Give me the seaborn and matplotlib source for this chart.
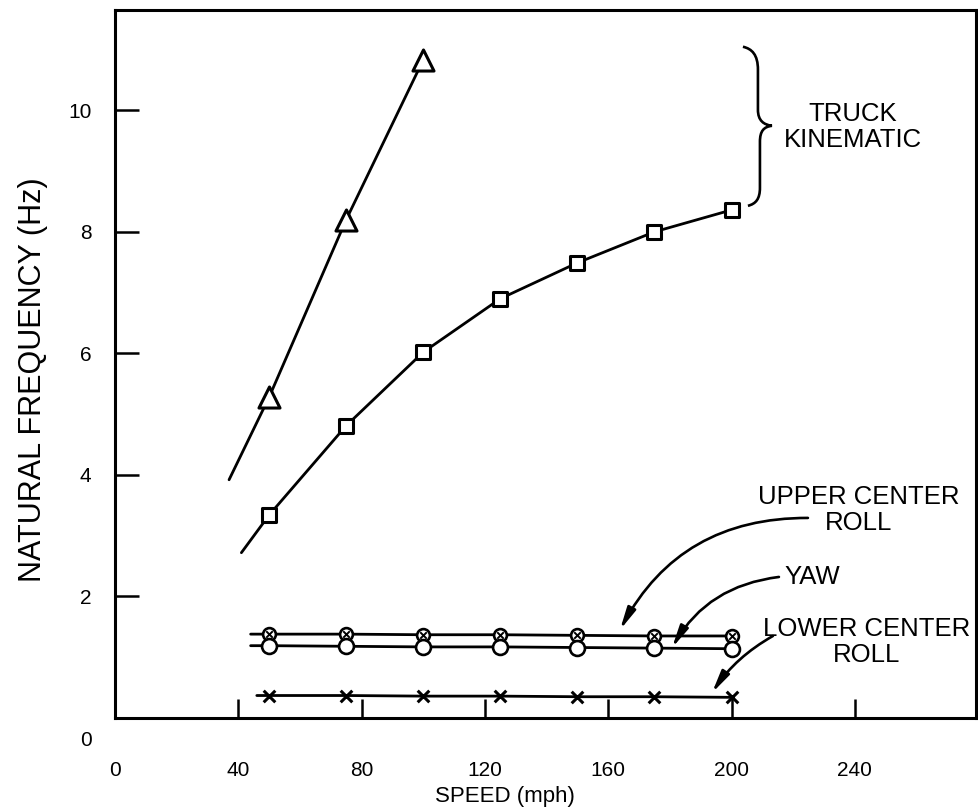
import matplotlib
matplotlib.use("Agg")
import matplotlib.pyplot as plt
from matplotlib.path import Path
from matplotlib.patches import PathPatch
from matplotlib.transforms import ScaledTranslation
import seaborn as sns
import numpy as np

# ---------------- data ----------------
speeds = [50, 75, 100, 125, 150, 175, 200]          # mph
tri_speeds = [50, 75, 100]
tri_freq = [5.28, 8.20, 10.83]                        # truck kinematic (triangles)
tri_line_start = [37, 3.92]                           # line extension start (speed, freq)
sq_freq = [3.34, 4.81, 6.02, 6.90, 7.49, 8.00, 8.36]  # truck kinematic (squares)
sq_line_start = [41, 2.72]
upper_roll = [1.38, 1.38, 1.37, 1.37, 1.36, 1.35, 1.35]
upper_roll_start = 44
yaw = [1.19, 1.18, 1.17, 1.17, 1.16, 1.15, 1.14]
yaw_start = 44
lower_roll = [0.37, 0.37, 0.36, 0.36, 0.35, 0.35, 0.34]
lower_roll_start = 46

x_ticks = [0, 40, 80, 120, 160, 200, 240]
y_ticks = [0, 2, 4, 6, 8, 10]

# ---------------- style ----------------
sns.set_theme(style="white")
plt.rcParams["font.family"] = ["Liberation Sans", "DejaVu Sans"]

fig = plt.figure(figsize=(9.79, 8.10), dpi=100)
ax = fig.add_axes([115 / 979, 1 - 718 / 810, (976 - 115) / 979, (718 - 10) / 810])

LW = 2.0
K = "black"

def line(xs, ys):
    sns.lineplot(x=xs, y=ys, ax=ax, color=K, lw=LW, sort=False, estimator=None)

# truck kinematic - triangles
line([tri_line_start[0]] + tri_speeds, [tri_line_start[1]] + tri_freq)
sns.scatterplot(x=tri_speeds, y=tri_freq, ax=ax, marker="^", s=230,
                facecolor="white", edgecolor=K, linewidth=2.2, zorder=5)

# truck kinematic - squares
line([sq_line_start[0]] + speeds, [sq_line_start[1]] + sq_freq)
sns.scatterplot(x=speeds, y=sq_freq, ax=ax, marker="s", s=105,
                facecolor="white", edgecolor=K, linewidth=2.2, zorder=5)

# upper center roll
line([upper_roll_start] + speeds, [upper_roll[0]] + upper_roll)
sns.scatterplot(x=speeds, y=upper_roll, ax=ax, marker="o", s=85,
                facecolor="white", edgecolor=K, linewidth=1.9, zorder=5)
sns.scatterplot(x=speeds, y=upper_roll, ax=ax, marker="x", s=22,
                color=K, linewidth=1.4, zorder=6)

# yaw
line([yaw_start] + speeds, [yaw[0]] + yaw)
sns.scatterplot(x=speeds, y=yaw, ax=ax, marker="o", s=115,
                facecolor="white", edgecolor=K, linewidth=1.9, zorder=5)

# lower center roll
line([lower_roll_start] + speeds, [lower_roll[0]] + lower_roll)
sns.scatterplot(x=speeds, y=lower_roll, ax=ax, marker="x", s=70,
                color=K, linewidth=2.2, zorder=5)

# ---------------- axes ----------------
ax.set_xlim(0, 279.3)
ax.set_ylim(0, 11.65)
ax.set_xticks(x_ticks)
ax.set_yticks(y_ticks)
ax.set_xticklabels([str(t) for t in x_ticks])
ax.set_yticklabels([str(t) for t in y_ticks])
ax.tick_params(axis="x", which="major", bottom=True, top=False, direction="in",
               length=14, width=1.8, color=K, labelsize=15, pad=31, labelcolor=K)
ax.tick_params(axis="y", which="major", left=True, right=False, direction="in",
               length=17, width=1.8, color=K, labelsize=15, pad=17, labelcolor=K)
for sp in ax.spines.values():
    sp.set_visible(True)
    sp.set_color(K)
    sp.set_linewidth(2.2)

# the "0" on the frequency axis sits a little below the corner in the original
ylab0 = ax.get_yticklabels()[0]
ylab0.set_transform(ylab0.get_transform() + ScaledTranslation(0, -0.2, fig.dpi_scale_trans))

ax.set_xlabel("SPEED (mph)", fontsize=16, color=K)
ax.xaxis.set_label_coords((505 - 115) / 861, (718 - 786) / 708)
ax.set_ylabel("NATURAL FREQUENCY (Hz)", fontsize=22, color=K)
ax.yaxis.set_label_coords((48 - 115) / 861, (718 - 380) / 708)

# ---------------- annotations ----------------
def px(xp, yp):
    return ((xp - 115) / 3.083, (718 - yp) / 60.75)

# brace for TRUCK KINEMATIC
verts = [px(743, 47),
         px(752, 49), px(758, 55), px(758, 70),
         px(758, 110),
         px(758, 121), px(764, 125), px(772, 126),
         px(764, 127), px(760, 131), px(760, 142),
         px(760, 188),
         px(760, 199), px(756, 204), px(748, 206)]
codes = [Path.MOVETO,
         Path.CURVE4, Path.CURVE4, Path.CURVE4,
         Path.LINETO,
         Path.CURVE4, Path.CURVE4, Path.CURVE4,
         Path.CURVE4, Path.CURVE4, Path.CURVE4,
         Path.LINETO,
         Path.CURVE4, Path.CURVE4, Path.CURVE4]
ax.add_patch(PathPatch(Path(verts, codes), facecolor="none", edgecolor=K, lw=1.9))

txt_kw = dict(fontsize=18.5, color=K, linespacing=1.1)
ax.text(*px(853, 127), "TRUCK\nKINEMATIC", ha="center", va="center", **txt_kw)
ax.text(*px(859, 510), "UPPER CENTER\nROLL", ha="center", va="center", **txt_kw)
ax.text(*px(785, 577), "YAW", ha="left", va="center", **txt_kw)
ax.text(*px(867, 642), "LOWER CENTER\nROLL", ha="center", va="center", **txt_kw)

arrow_kw = dict(arrowstyle="-|>,head_length=1.1,head_width=0.22", color=K, lw=1.9,
                shrinkA=0, shrinkB=0)
ax.annotate("", xy=px(620, 630), xytext=px(808, 518),
            arrowprops=dict(connectionstyle="arc3,rad=0.3", **arrow_kw))
ax.annotate("", xy=px(672, 648), xytext=px(779, 577),
            arrowprops=dict(connectionstyle="arc3,rad=0.25", **arrow_kw))
ax.annotate("", xy=px(712, 693), xytext=px(773, 636),
            arrowprops=dict(connectionstyle="arc3,rad=0.12", **arrow_kw))

fig.savefig("out.png", dpi=100, facecolor="white")
